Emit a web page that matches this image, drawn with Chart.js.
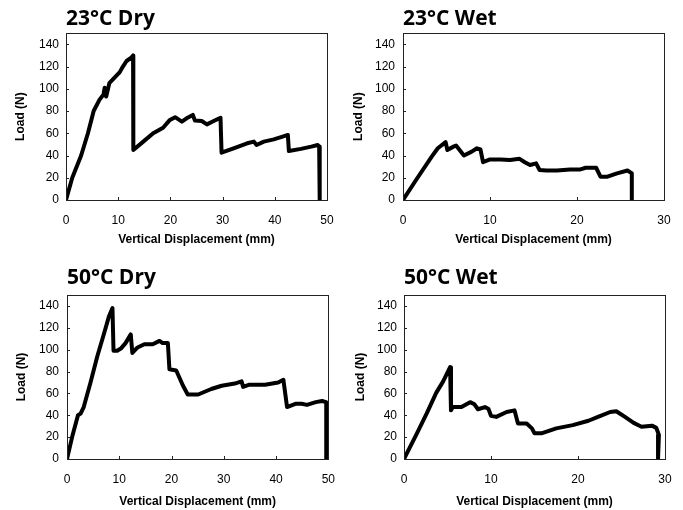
<!DOCTYPE html>
<html>
<head>
<meta charset="utf-8">
<script src="https://cdn.jsdelivr.net/npm/chart.js@4/dist/chart.umd.min.js"></script>
<style>
  body { margin: 0; background: #fff; }
  #wrap { position: relative; width: 683px; height: 510px; background: #fff; }
  #wrap canvas { position: absolute; }
</style>
</head>
<body>
<div id="wrap">
  <canvas id="c0" width="340" height="255" style="left:0;top:0"></canvas>
  <canvas id="c1" width="343" height="255" style="left:340px;top:0"></canvas>
  <canvas id="c2" width="340" height="255" style="left:0;top:255px"></canvas>
  <canvas id="c3" width="343" height="255" style="left:340px;top:255px"></canvas>
</div>
<script>
// panel titles and axis text
const panelTitles = ['23°C Dry', '23°C Wet', '50°C Dry', '50°C Wet'];
const xTitle = 'Vertical Displacement (mm)';
const yTitle = 'Load (N)';
const xMaxes = [50, 30, 50, 30];
const yMax = 150;
const yTickValues = [0, 20, 40, 60, 80, 100, 120, 140];
const xTicks50 = [0, 10, 20, 30, 40, 50];
const xTicks30 = [0, 10, 20, 30];
const xTickSets = [xTicks50, xTicks30, xTicks50, xTicks30];

// 23°C Dry
const dry23X = [0, 1.2, 2.9, 4.2, 5.3, 6.4, 7.2, 7.4, 7.7, 8.3, 9.3, 10.3, 10.9, 11.6, 12.5, 12.85, 12.9, 14.8, 16.7, 18.6, 19.9, 20.9, 22.2, 23.1, 24.3, 24.7, 26.0, 27.0, 28.3, 29.6, 29.8, 32.1, 34.7, 36.0, 36.5, 37.9, 39.8, 41.5, 42.5, 42.7, 45.0, 47.0, 48.2, 48.5, 48.6];
const dry23Y = [0, 20, 40, 60, 80, 90, 95, 101, 93, 105, 110, 115, 120, 125, 128, 130, 45, 52.5, 60, 65, 72, 74.5, 70.5, 73.5, 76.5, 71.4, 71, 68, 71, 74, 42.5, 46.5, 51, 52.5, 49.5, 52.5, 54.5, 57, 58.5, 44, 46, 48, 49.5, 48, 0];

// 23°C Wet
const wet23X = [0, 1.5, 3.3, 4.0, 4.9, 5.1, 5.8, 6.1, 7.0, 7.9, 8.5, 8.9, 9.2, 10.0, 11.2, 12.3, 13.4, 14.0, 14.6, 15.3, 15.7, 16.5, 17.7, 19.2, 20.4, 21.0, 22.2, 22.7, 23.5, 24.6, 25.8, 26.3, 26.3];
const wet23Y = [0, 18, 39, 46.5, 52, 45, 48, 49, 40, 43.5, 46.5, 45.5, 34, 36.5, 36.5, 36, 37, 34, 31.5, 33, 27, 26.5, 26.5, 27.5, 27.5, 29, 29, 21, 21, 24, 26.5, 24, 0];

// 50°C Dry
const dry50X = [0, 1.0, 2.1, 2.6, 3.2, 4.5, 5.8, 7.1, 8.0, 8.7, 8.9, 9.6, 10.3, 11.2, 12.2, 12.5, 13.5, 14.8, 16.4, 17.7, 18.3, 19.3, 19.6, 20.9, 22.2, 23.1, 25.1, 27.6, 29.6, 32.1, 33.4, 33.7, 34.9, 37.9, 40.4, 41.4, 42.1, 43.7, 44.9, 45.9, 47.6, 48.8, 49.6, 49.6];
const dry50Y = [0, 20.5, 40, 41.5, 47.5, 70, 94, 115, 130, 138, 99, 99, 101, 106, 114, 97, 102, 105, 105, 108, 106, 106, 82, 81, 67, 59, 59, 64, 67, 69, 71, 66, 68, 68, 70, 72.5, 47.5, 50.5, 50.5, 49.5, 52, 53, 52, 0];

// 50°C Wet
const wet50X = [0, 1.4, 2.6, 3.7, 4.5, 5.3, 5.4, 5.6, 6.6, 7.6, 8.1, 8.5, 9.3, 9.7, 10.0, 10.6, 11.8, 12.7, 13.1, 14.1, 14.7, 15.0, 15.8, 17.5, 19.4, 21.2, 22.3, 23.7, 24.4, 25.4, 26.4, 27.3, 28.5, 29.0, 29.3, 29.2];
const wet50Y = [0, 22, 41.5, 60.5, 71, 84, 44.5, 47.5, 47.5, 52, 50, 45.5, 47.5, 46, 39.5, 38.5, 43, 44.5, 32.5, 32.5, 28, 23.5, 23.5, 28, 31, 35, 38.5, 43, 43.7, 38.5, 33, 29.5, 30.5, 28.5, 22, 0];

const seriesX = [dry23X, wet23X, dry50X, wet50X];
const seriesY = [dry23Y, wet23Y, dry50Y, wet50Y];

// per-panel layout (pixels inside each canvas)
const layouts = [
  { padRight: 13, yWidth: 66, xHeight: 55, titleTop: 6, titleBottom: 2, yTitlePad: 13, yTickPad: 7, xTickPad: 5, xTitlePad: 8 },
  { padRight: 19, yWidth: 63, xHeight: 55, titleTop: 6, titleBottom: 2, yTitlePad: 11, yTickPad: 8, xTickPad: 5, xTitlePad: 8 },
  { padRight: 11, yWidth: 67, xHeight: 51, titleTop: 10.5, titleBottom: 4.3, yTitlePad: 14, yTickPad: 8, xTickPad: 5, xTitlePad: 1 },
  { padRight: 18, yWidth: 64, xHeight: 51, titleTop: 10.5, titleBottom: 4.3, yTitlePad: 13, yTickPad: 7, xTickPad: 5, xTitlePad: 1 },
];

const tickFont = { family: 'Liberation Sans, Arial, sans-serif', size: 12 };
const axisFont = { family: 'Liberation Sans, Arial, sans-serif', size: 12, weight: 'bold' };

// box around the plot plus short inward tick marks
const framePlugin = {
  id: 'frame',
  afterDraw(chart) {
    const { ctx, chartArea: a, scales } = chart;
    ctx.save();
    ctx.strokeStyle = '#222';
    ctx.lineWidth = 1;
    ctx.strokeRect(Math.round(a.left) + 0.5, Math.round(a.top) + 0.5,
      Math.round(a.right - a.left), Math.round(a.bottom - a.top));
    ctx.beginPath();
    scales.x.ticks.forEach(t => {
      const px = Math.round(scales.x.getPixelForValue(t.value)) + 0.5;
      ctx.moveTo(px, a.bottom);
      ctx.lineTo(px, a.bottom - 3);
    });
    scales.y.ticks.forEach(t => {
      const py = Math.round(scales.y.getPixelForValue(t.value)) + 0.5;
      ctx.moveTo(a.left, py);
      ctx.lineTo(a.left + 3, py);
    });
    ctx.stroke();
    ctx.restore();
  }
};

panelTitles.forEach((title, i) => {
  const lay = layouts[i];
  const points = seriesX[i].map((x, k) => ({ x: x, y: seriesY[i][k] }));
  new Chart(document.getElementById('c' + i), {
    type: 'line',
    data: {
      datasets: [{
        data: points,
        borderColor: '#000',
        borderWidth: 4,
        borderJoinStyle: 'round',
        borderCapStyle: 'round',
        pointRadius: 0,
        tension: 0,
        fill: false,
      }]
    },
    options: {
      responsive: false,
      animation: false,
      devicePixelRatio: 1,
      layout: { padding: { left: 0, right: lay.padRight, top: 0, bottom: 0 } },
      plugins: {
        legend: { display: false },
        tooltip: { enabled: false },
        title: {
          display: true,
          text: title,
          align: 'start',
          fullSize: false,
          color: '#000',
          font: { family: 'Open Sans, Noto Sans, sans-serif', size: 21, weight: 'bold' },
          padding: { top: lay.titleTop, bottom: lay.titleBottom },
        },
      },
      scales: {
        x: {
          type: 'linear',
          min: 0,
          max: xMaxes[i],
          // tick marks are drawn by framePlugin; the 8px tick length only spaces the labels
          grid: { display: false, drawTicks: true, tickLength: 8 },
          border: { display: false },
          ticks: { color: '#000', font: tickFont, padding: lay.xTickPad, maxRotation: 0 },
          afterBuildTicks(scale) { scale.ticks = xTickSets[i].map(v => ({ value: v })); },
          title: { display: true, text: xTitle, color: '#000', font: axisFont, padding: { top: 0, bottom: lay.xTitlePad } },
          afterFit(scale) { scale.height = lay.xHeight; },
        },
        y: {
          min: 0,
          max: yMax,
          grid: { display: false, drawTicks: false },
          border: { display: false },
          ticks: { color: '#000', font: tickFont, padding: lay.yTickPad },
          afterBuildTicks(scale) { scale.ticks = yTickValues.map(v => ({ value: v })); },
          title: { display: true, text: yTitle, color: '#000', font: axisFont, padding: { top: lay.yTitlePad, bottom: 0 } },
          afterFit(scale) { scale.width = lay.yWidth; },
        },
      },
    },
    plugins: [framePlugin],
  });
});
</script>
</body>
</html>
